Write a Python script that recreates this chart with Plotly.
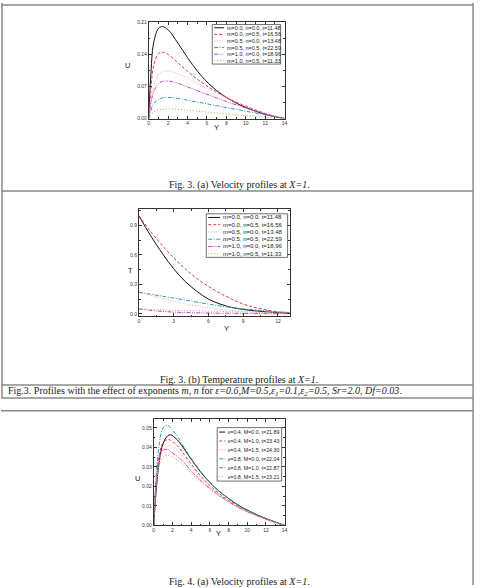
import plotly.graph_objects as go

W, H = 481, 588

# ---------------- Data: Fig 3(a) velocity U vs Y ----------------
a_Y = [0, 0.2, 0.5, 1, 1.4, 2, 3, 4, 5, 6, 7, 8, 9, 10, 11, 12, 13, 14]
a_m0n0 = [0, 0.09, 0.165, 0.197, 0.201, 0.194, 0.165, 0.133, 0.104, 0.080, 0.061, 0.046, 0.034, 0.024, 0.016, 0.009, 0.004, 0]
a_m0n5 = [0, 0.06, 0.115, 0.142, 0.145, 0.140, 0.122, 0.103, 0.086, 0.071, 0.058, 0.046, 0.036, 0.027, 0.019, 0.011, 0.005, 0]
a_m5n0 = [0, 0.035, 0.070, 0.095, 0.102, 0.104, 0.098, 0.088, 0.077, 0.066, 0.055, 0.045, 0.036, 0.027, 0.019, 0.012, 0.005, 0]
a_m5n5 = [0, 0.017, 0.032, 0.042, 0.045, 0.046, 0.044, 0.040, 0.036, 0.032, 0.028, 0.024, 0.020, 0.016, 0.012, 0.008, 0.004, 0]
a_m1n0 = [0, 0.030, 0.058, 0.076, 0.081, 0.082, 0.077, 0.069, 0.061, 0.053, 0.045, 0.037, 0.030, 0.023, 0.016, 0.010, 0.004, 0]
a_m1n5 = [0, 0.008, 0.014, 0.019, 0.020, 0.021, 0.020, 0.018, 0.016, 0.014, 0.012, 0.010, 0.008, 0.006, 0.005, 0.003, 0.001, 0]

# ---------------- Data: Fig 3(b) temperature T vs Y ----------------
b_Y = [0, 1, 2, 3, 4, 5, 6, 7, 8, 9, 10, 11, 12, 13]
b_m0n0 = [1.0, 0.80, 0.62, 0.46, 0.33, 0.23, 0.15, 0.10, 0.065, 0.045, 0.030, 0.020, 0.012, 0.008]
b_m0n5 = [1.0, 0.84, 0.70, 0.57, 0.46, 0.36, 0.28, 0.21, 0.15, 0.10, 0.065, 0.040, 0.020, 0.010]
b_m5n0 = [0.22, 0.19, 0.16, 0.13, 0.10, 0.08, 0.06, 0.045, 0.035, 0.025, 0.020, 0.015, 0.010, 0.008]
b_m5n5 = [0.22, 0.20, 0.18, 0.16, 0.14, 0.12, 0.10, 0.08, 0.065, 0.05, 0.04, 0.03, 0.02, 0.015]
b_m1n0 = [0.05, 0.035, 0.025, 0.018, 0.013, 0.010, 0.008, 0.006, 0.005, 0.004, 0.003, 0.002, 0.002, 0.001]
b_m1n5 = [0.05, 0.045, 0.040, 0.036, 0.033, 0.030, 0.027, 0.024, 0.021, 0.018, 0.015, 0.012, 0.010, 0.008]

# ---------------- Data: Fig 4(a) velocity U vs Y ----------------
c_Y = [0, 0.3, 0.6, 1, 1.5, 1.8, 2.5, 3, 4, 5, 6, 7, 8, 9, 10, 11, 12, 13, 14]
c_e4M0 = [0, 0.020, 0.033, 0.042, 0.046, 0.0465, 0.044, 0.041, 0.034, 0.0275, 0.022, 0.0175, 0.0138, 0.0105, 0.0078, 0.0055, 0.0035, 0.0017, 0]
c_e4M1 = [0, 0.024, 0.036, 0.0425, 0.044, 0.0437, 0.041, 0.038, 0.0315, 0.0255, 0.0205, 0.0163, 0.0128, 0.0098, 0.0073, 0.0052, 0.0033, 0.0016, 0]
c_e4M15 = [0, 0.022, 0.033, 0.039, 0.041, 0.0408, 0.0385, 0.036, 0.030, 0.0245, 0.0198, 0.0158, 0.0125, 0.0096, 0.0072, 0.0051, 0.0032, 0.0015, 0]
c_e8M0 = [0, 0.028, 0.042, 0.050, 0.0515, 0.050, 0.046, 0.042, 0.0345, 0.0278, 0.022, 0.0175, 0.0137, 0.0104, 0.0077, 0.0054, 0.0034, 0.0016, 0]
c_e8M1 = [0, 0.025, 0.035, 0.0385, 0.039, 0.038, 0.0355, 0.0335, 0.028, 0.0232, 0.019, 0.0153, 0.0122, 0.0094, 0.0070, 0.0050, 0.0032, 0.0015, 0]
c_e8M15 = [0, 0.022, 0.031, 0.035, 0.036, 0.0357, 0.0335, 0.0315, 0.0268, 0.0223, 0.0184, 0.0149, 0.0119, 0.0092, 0.0069, 0.0049, 0.0031, 0.0015, 0]

labels_mn = ["m=0.0, n=0.0, t=11.48", "m=0.0, n=0.5, t=16.56", "m=0.5, n=0.0, t=13.48",
             "m=0.5, n=0.5, t=22.59", "m=1.0, n=0.0, t=18.96", "m=1.0, n=0.5, t=11.33"]
labels_eM = ["\u03b5=0.4, M=0.0, t=21.89", "\u03b5=0.4, M=1.0, t=23.43", "\u03b5=0.4, M=1.5, t=24.30",
             "\u03b5=0.8, M=0.0, t=22.04", "\u03b5=0.8, M=1.0, t=22.87", "\u03b5=0.8, M=1.5, t=23.21"]

# styles: colour, dash (legend order)
styles = [("#111111", "solid"),
          ("#e0354a", "3px,2px"),
          ("#f2a2b2", "1px,1.5px"),
          ("#2f9e9a", "4px,1.5px,1px,1.5px"),
          ("#cc3fcc", "4px,1.2px,1px,1.2px,1px,1.2px"),
          ("#b5a63c", "1px,2px")]

SANS = "Liberation Sans, Arial, sans-serif"
SERIF = "Liberation Serif, Times New Roman, serif"


def fx(px):
    return px / W


def fy(py):
    return 1 - py / H


fig = go.Figure()

series_a = [a_m0n0, a_m0n5, a_m5n0, a_m5n5, a_m1n0, a_m1n5]
series_b = [b_m0n0, b_m0n5, b_m5n0, b_m5n5, b_m1n0, b_m1n5]
series_c = [c_e4M0, c_e4M1, c_e4M15, c_e8M0, c_e8M1, c_e8M15]

for k, ys in enumerate(series_a):
    col, dash = styles[k]
    fig.add_trace(go.Scatter(x=a_Y, y=ys, mode="lines", line=dict(color=col, dash=dash, width=1, shape="spline"),
                             xaxis="x", yaxis="y", showlegend=False, name=labels_mn[k]))
for k, ys in enumerate(series_b):
    col, dash = styles[k]
    fig.add_trace(go.Scatter(x=b_Y, y=ys, mode="lines", line=dict(color=col, dash=dash, width=1, shape="spline"),
                             xaxis="x2", yaxis="y2", showlegend=False, name=labels_mn[k]))
for k, ys in enumerate(series_c):
    col, dash = styles[k]
    fig.add_trace(go.Scatter(x=c_Y, y=ys, mode="lines", line=dict(color=col, dash=dash, width=1, shape="spline"),
                             xaxis="x3", yaxis="y3", showlegend=False, name=labels_eM[k]))


def axis(domain, rng, dtick, minor, fmt, anchor):
    return dict(domain=domain, range=rng, dtick=dtick, tick0=0, tickformat=fmt, anchor=anchor,
                showgrid=False, zeroline=False, showline=True, linecolor="#333", linewidth=0.8,
                mirror="allticks", ticks="inside", ticklen=3, tickwidth=0.6, tickcolor="#333",
                tickfont=dict(family=SANS, size=5, color="#333"),
                minor=dict(ticks="inside", ticklen=1.8, dtick=minor, tick0=0, tickcolor="#333", tickwidth=0.5))


# pixel boxes of the three plot frames
A = (149, 286, 19.7, 116.7)
B = (139, 291, 208, 316.5)
C = (154, 286, 420.7, 527.7)

fig.update_layout(
    width=W, height=H, margin=dict(l=0, r=0, t=0, b=0),
    paper_bgcolor="white", plot_bgcolor="white", showlegend=False,
    xaxis=axis([fx(A[0]), fx(A[1])], [0, 14], 2, 1, "d", "y"),
    yaxis=axis([fy(A[3]), fy(A[2])], [0, 0.21], 0.07, 0.035, ".2f", "x"),
    xaxis2=axis([fx(B[0]), fx(B[1])], [0, 13], 3, 1.5, "d", "y2"),
    yaxis2=axis([fy(B[3]), fy(B[2])], [-0.025, 1.07], 0.3, 0.15, ".1f", "x2"),
    xaxis3=axis([fx(C[0]), fx(C[1])], [0, 14], 2, 1, "d", "y3"),
    yaxis3=axis([fy(C[3]), fy(C[2])], [0, 0.0544], 0.01, 0.005, ".2f", "x3"),
)

shapes = []
annotations = []


def text(px, py, s, size, family=SANS, xanchor="center", yanchor="middle", color="#222"):
    annotations.append(dict(x=fx(px), y=fy(py), xref="paper", yref="paper", text=s, showarrow=False,
                            xanchor=xanchor, yanchor=yanchor, font=dict(family=family, size=size, color=color)))


def hline(py, x0, x1, color="#8a8a8a", width=1.5):
    shapes.append(dict(type="line", xref="paper", yref="paper", x0=fx(x0), x1=fx(x1), y0=fy(py), y1=fy(py),
                       line=dict(color=color, width=width)))


def vline(px, y0, y1, color="#8a8a8a", width=1.5):
    shapes.append(dict(type="line", xref="paper", yref="paper", x0=fx(px), x1=fx(px), y0=fy(y0), y1=fy(y1),
                       line=dict(color=color, width=width)))


def legend_box(x0, x1, y0, y1, labels, line_x0, line_x1, text_x, size):
    shapes.append(dict(type="rect", xref="paper", yref="paper", x0=fx(x0), x1=fx(x1), y0=fy(y1), y1=fy(y0),
                       line=dict(color="#333", width=0.7), fillcolor="white", layer="above"))
    rh = (y1 - y0) / len(labels)
    for i, lab in enumerate(labels):
        cy = y0 + rh * (i + 0.5)
        col, dash = styles[i]
        shapes.append(dict(type="line", xref="paper", yref="paper", x0=fx(line_x0), x1=fx(line_x1),
                           y0=fy(cy), y1=fy(cy), line=dict(color=col, width=1, dash=dash), layer="above"))
        text(text_x, cy, lab, size, xanchor="left")


# legends
legend_box(213, 282, 21.7, 61.7, labels_mn, 215, 225, 226, 5.5)
legend_box(207, 289, 213, 257, labels_mn, 209, 221, 222, 6)
legend_box(218, 283, 429, 483, labels_eM, 220, 226, 227, 5.3)

# axis titles
text(128, 63, "U", 7.5)
text(217, 126, "Y", 7.5)
text(131, 270, "T", 7.5)
text(227, 329, "Y", 7.5)
text(138, 480, "U", 7.5)
text(219, 536, "Y", 7.5)

# captions
text(240, 184, "Fig. 3. (a) Velocity profiles at <i>X=1</i>.", 10, SERIF)
text(240, 381, "Fig. 3. (b) Temperature profiles at <i>X=1</i>.", 10, SERIF)
text(5, 392, "Fig.3. Profiles with the effect of exponents <i>m, n</i> for <i>\u03b5=0.6,M=0.5,\u03b5<sub>1</sub>=0.1,"
              "\u03b5<sub>2</sub>=0.5, Sr=2.0, Df=0.03</i>.", 10, SERIF, xanchor="left")
text(240, 577, "Fig. 4. (a) Velocity profiles at <i>X=1</i>.", 10, SERIF, yanchor="top")

# page/table rules
hline(2, 0, 476)
hline(190, 0, 476)
hline(386, 0, 476)
hline(399, 0, 476)
hline(412, 0, 476)
vline(476, 0, 588)
vline(1, 0, 399)

fig.update_layout(shapes=shapes, annotations=annotations)
fig.write_html("out.html")
